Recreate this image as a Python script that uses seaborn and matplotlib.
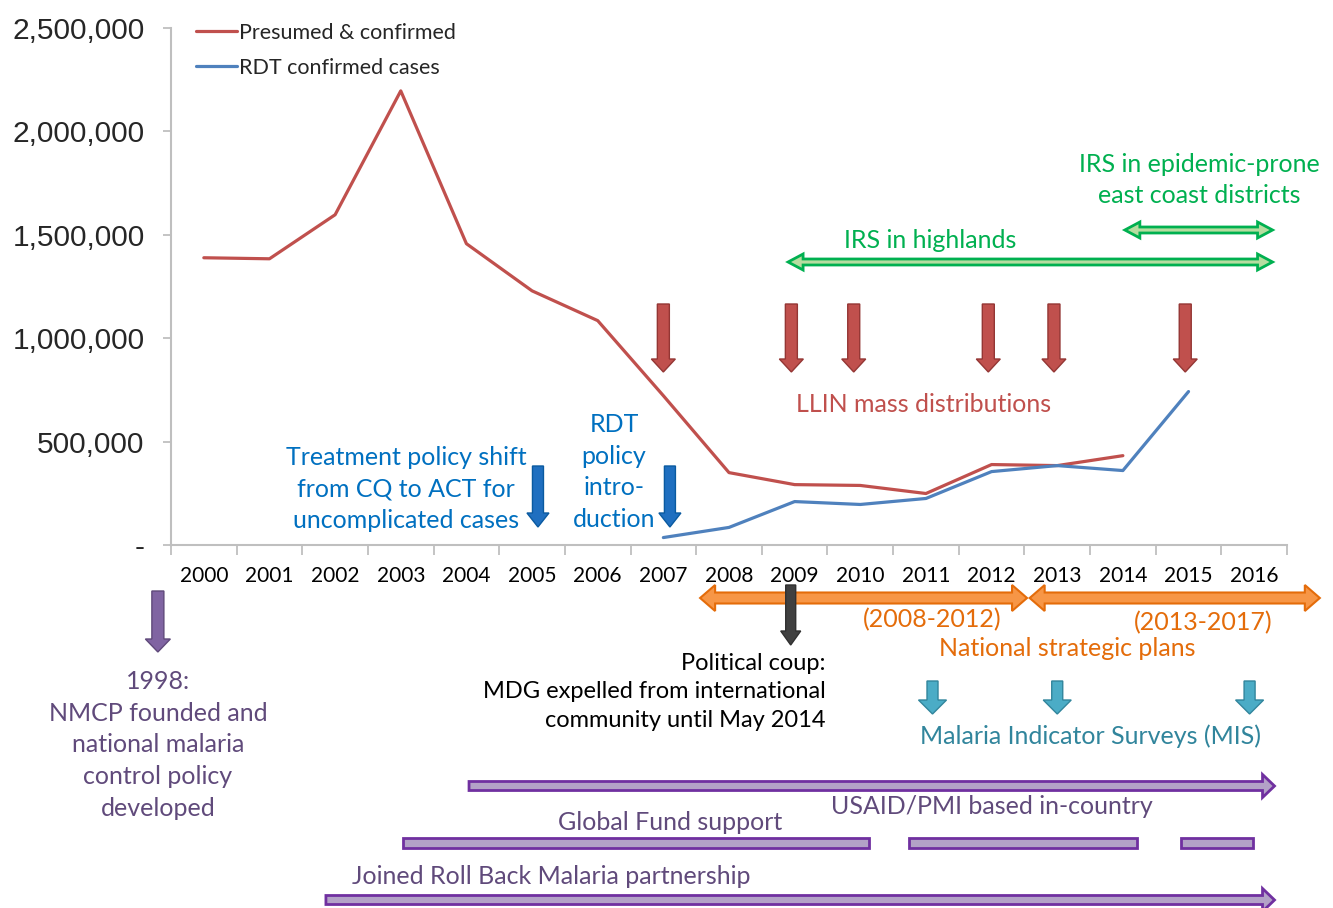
import numpy as np
import pandas as pd
import seaborn as sns
import matplotlib.pyplot as plt
from matplotlib.patches import Polygon

# data
years = list(range(2000, 2017))
presumed = [1389000, 1384000, 1597000, 2196000, 1457000, 1229000, 1085000, 722000,
            350000, 292000, 288000, 249000, 389000, 384000, 432000, np.nan, np.nan]
rdt = [np.nan] * 7 + [36000, 85000, 210000, 196000, 225000, 355000, 384000, 360000,
                      742000, np.nan]
y_ticks = [0, 500000, 1000000, 1500000, 2000000, 2500000]
y_labels = ['-', '500,000', '1,000,000', '1,500,000', '2,000,000', '2,500,000']

# timeline events (in years)
llin_years = [2007.0, 2008.95, 2009.9, 2011.95, 2012.95, 2014.95]
mis_years = [2011.1, 2013.0, 2015.93]
usaid_span = (2004.04, 2016.31)
global_fund_spans = [(2003.03, 2010.14), (2010.74, 2014.21), (2014.88, 2015.98)]
rbm_span = (2001.86, 2016.31)
nsp_spans = [(2007.56, 2012.54), (2012.58, 2017.0)]
irs_high_span = (2008.9, 2016.28)
irs_east_span = (2014.03, 2016.28)

RED, BLUE = '#c0504d', '#4f81bd'
W, H = 1333, 908

sns.set_theme(style='white')
plt.rcParams['font.family'] = ['Lato', 'DejaVu Sans']

df = pd.DataFrame({'pos': np.arange(len(years)), 'presumed': presumed, 'rdt': rdt})

fig = plt.figure(figsize=(W / 100, H / 100), dpi=100)
ax = fig.add_axes([171 / W, 1 - 545 / H, (1287 - 171) / W, (545 - 28) / H])

sns.lineplot(data=df, x='pos', y='presumed', color=RED, lw=2.3, ax=ax,
             label='Presumed & confirmed')
sns.lineplot(data=df, x='pos', y='rdt', color=BLUE, lw=2.3, ax=ax,
             label='RDT confirmed cases')

ax.set_xlim(-0.5, len(years) - 0.5)
ax.set_ylim(0, 2500000)
ax.set_xticks(range(len(years)))
ax.set_xticklabels([str(y) for y in years], fontsize=15)
ax.set_xticks(np.arange(-0.5, len(years), 1), minor=True)
ax.set_yticks(y_ticks)
ax.set_yticklabels(y_labels, fontsize=21.5, family=['Liberation Sans', 'DejaVu Sans'])
ax.set_xlabel('')
ax.set_ylabel('')
ax.tick_params(axis='x', which='major', bottom=True, length=0, pad=15, colors='black')
ax.tick_params(axis='x', which='minor', bottom=True, length=7, width=1.3, color='#bfbfbf')
ax.tick_params(axis='y', left=True, length=6, width=1.3, color='#bfbfbf', pad=13)
for s in ['top', 'right']:
    ax.spines[s].set_visible(False)
for s in ['left', 'bottom']:
    ax.spines[s].set_color('#bfbfbf')
    ax.spines[s].set_linewidth(1.5)

ax.legend(loc='upper left', bbox_to_anchor=(196 / W, 1 - 23 / H),
          bbox_transform=fig.transFigure, frameon=False, fontsize=15.5,
          handlelength=1.9, handletextpad=0.1, labelspacing=0.68,
          borderpad=0, borderaxespad=0)

# overlay in pixel coordinates for the annotations
ov = fig.add_axes([0, 0, 1, 1])
ov.set_xlim(0, W)
ov.set_ylim(H, 0)
ov.axis('off')
ov.patch.set_alpha(0)
fig.canvas.draw()


def px(year):
    return ax.transData.transform((year - 2000, 0))[0]


def down_arrow(x, y0, y1, shaft, head_w, head_l, fc, ec, lw=1.0):
    pts = [(x - shaft / 2, y0), (x + shaft / 2, y0), (x + shaft / 2, y1 - head_l),
           (x + head_w / 2, y1 - head_l), (x, y1), (x - head_w / 2, y1 - head_l),
           (x - shaft / 2, y1 - head_l)]
    ov.add_patch(Polygon(pts, closed=True, fc=fc, ec=ec, lw=lw, joinstyle='miter'))


def h_arrow(x0, x1, y, shaft, head_h, head_l, fc, ec, lw=1.5, left=True, right=True):
    pts = []
    if left:
        pts += [(x0, y), (x0 + head_l, y - head_h / 2), (x0 + head_l, y - shaft / 2)]
    else:
        pts += [(x0, y + shaft / 2), (x0, y - shaft / 2)]
    if right:
        pts += [(x1 - head_l, y - shaft / 2), (x1 - head_l, y - head_h / 2), (x1, y),
                (x1 - head_l, y + head_h / 2), (x1 - head_l, y + shaft / 2)]
    else:
        pts += [(x1, y - shaft / 2), (x1, y + shaft / 2)]
    if left:
        pts += [(x0 + head_l, y + shaft / 2), (x0 + head_l, y + head_h / 2)]
    ov.add_patch(Polygon(pts, closed=True, fc=fc, ec=ec, lw=lw, joinstyle='miter'))


def label(x, y, s, color, size=18, ha='center', ls=1.46):
    ov.text(x, y, s, color=color, fontsize=size, ha=ha, va='center',
            linespacing=ls, multialignment=ha)


# LLIN mass distributions
for yr in llin_years:
    down_arrow(px(yr), 304, 372, 12, 24, 13, RED, '#943634')
label(px(2010.97), 405, 'LLIN mass distributions', RED)

# IRS
GREEN = '#00b050'
h_arrow(px(irs_high_span[0]), px(irs_high_span[1]), 262, 6, 16, 15, '#b6dda0', GREEN, lw=2)
h_arrow(px(irs_east_span[0]), px(irs_east_span[1]), 230, 6, 16, 15, '#b6dda0', GREEN, lw=2)
label(px(2011.06), 241, 'IRS in highlands', GREEN)
label(px(2015.17), 180, 'IRS in epidemic-prone\neast coast districts', GREEN)

# treatment / RDT policy
DBLUE = '#0070c0'
down_arrow(px(2005.09), 466, 527, 11, 22, 14, '#1f6fc0', '#0a5aa0')
down_arrow(px(2007.1), 466, 527, 11, 22, 14, '#1f6fc0', '#0a5aa0')
label(px(2003.08), 489, 'Treatment policy shift\nfrom CQ to ACT for\nuncomplicated cases', DBLUE)
label(px(2006.25), 472, 'RDT\npolicy\nintro-\nduction', DBLUE)

# 1998 NMCP
down_arrow(px(1999.3), 591, 652, 12, 25, 13, '#8064a2', '#5f497a')
label(px(1999.3), 745, '1998:\nNMCP founded and\nnational malaria\ncontrol policy\ndeveloped',
      '#604a7b')

# national strategic plans
ORANGE = '#e46c0a'
for a, b in nsp_spans:
    h_arrow(px(a), px(b), 598, 11, 26, 15, '#f79646', ORANGE, lw=1.5)
label(px(2011.1), 620, '(2008-2012)', ORANGE)
label(px(2015.22), 623, '(2013-2017)', ORANGE)
label(px(2013.16), 648, 'National strategic plans', ORANGE)

# political coup
down_arrow(px(2008.94), 585, 645, 10, 20, 14, '#404040', '#303030')
label(px(2009.47), 692, 'Political coup:\nMDG expelled from international\ncommunity until May 2014',
      'black', size=17, ha='right', ls=1.47)

# MIS
TEAL = '#31859c'
for yr in mis_years:
    down_arrow(px(yr), 681, 714, 11, 28, 14, '#4bacc6', TEAL)
label(px(2013.5), 736, 'Malaria Indicator Surveys (MIS)', TEAL)

# partners
PURPLE = '#7030a0'
PFILL = '#b3a2c7'
h_arrow(px(usaid_span[0]), px(usaid_span[1]), 786, 9, 23, 12, PFILL, PURPLE, lw=2, left=False)
for a, b in global_fund_spans:
    h_arrow(px(a), px(b), 843, 10, 10, 1, PFILL, PURPLE, lw=2, left=False, right=False)
h_arrow(px(rbm_span[0]), px(rbm_span[1]), 900, 9, 23, 12, PFILL, PURPLE, lw=2, left=False)
label(px(2012.0), 806, 'USAID/PMI based in-country', '#604a7b')
label(px(2007.11), 822, 'Global Fund support', '#604a7b')
label(px(2005.29), 876, 'Joined Roll Back Malaria partnership', '#604a7b')

fig.savefig('out.png', dpi=100)
